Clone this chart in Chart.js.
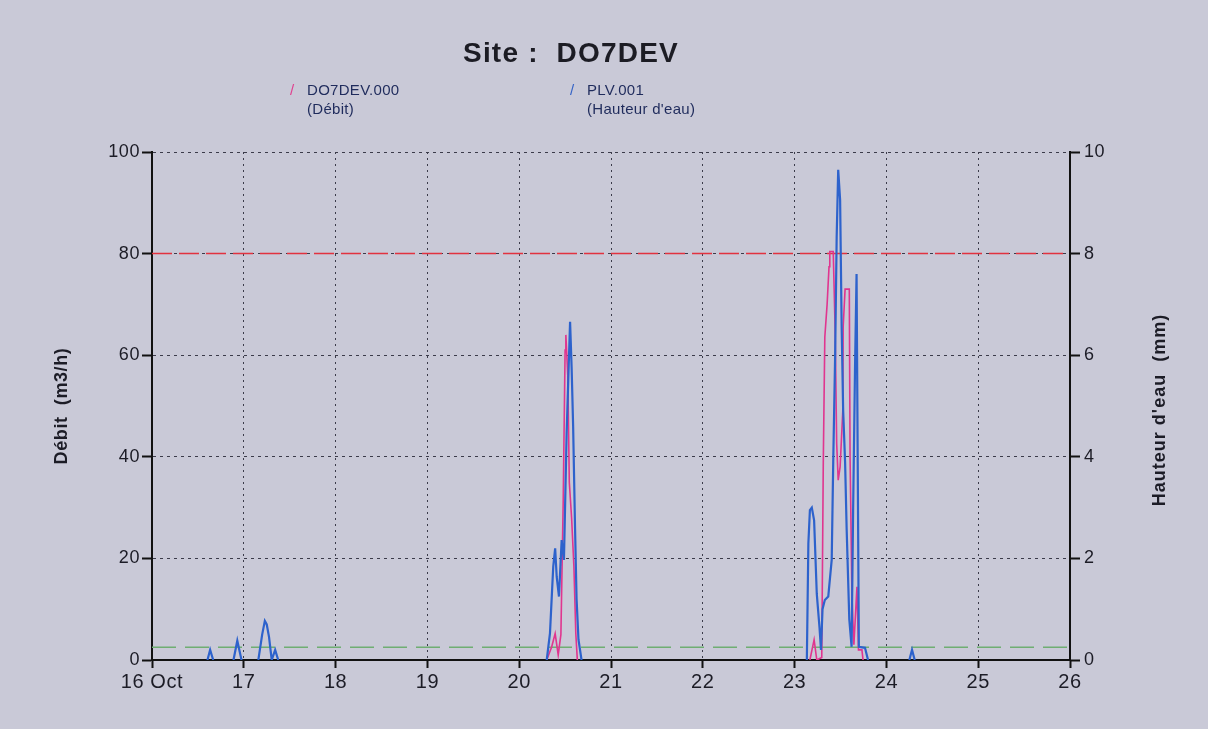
<!DOCTYPE html>
<html lang="fr">
<head>
<meta charset="utf-8">
<title>Site : DO7DEV</title>
<script src="https://cdn.jsdelivr.net/npm/chart.js@4.4.1/dist/chart.umd.min.js"></script>
<style>
  html, body { margin: 0; padding: 0; background: #c9c9d7; }
  #page { position: relative; width: 1208px; height: 729px; overflow: hidden; font-family: "Liberation Sans", Arial, sans-serif; }
  #graph { position: absolute; left: 0; top: 0; }
  .titre { position: absolute; left: 463px; top: 38px; font-size: 28px; line-height: 30px; font-weight: bold; letter-spacing: 1.2px; color: #1c1c24; white-space: pre; }
  .legende { position: absolute; top: 80px; font-size: 15px; line-height: 19px; color: #1f2b5c; letter-spacing: 0.3px; white-space: nowrap; }
  .legende .trait { position: absolute; left: -17px; top: 0; }
</style>
</head>
<body>
<div id="page">
  <canvas id="graph" width="1208" height="729"></canvas>
  <div class="titre">Site :  DO7DEV</div>
  <div class="legende" style="left:307px"><span class="trait" style="color:#e0408f">/</span>DO7DEV.000<br>(Débit)</div>
  <div class="legende" style="left:587px"><span class="trait" style="color:#3563c6">/</span>PLV.001<br>(Hauteur d'eau)</div>
</div>
<script>
// temps en heures depuis le 16 oct. 00h00
const jours = ['16 Oct', '17', '18', '19', '20', '21', '22', '23', '24', '25', '26'];
const seuilHaut = 80;   // m3/h
const seuilBas = 2.5;   // m3/h

// DO7DEV.000 - débit (m3/h), null = pas de tracé
const debitHeures = [103.2, 104.5, 105.4, 106.2, 106.9, 107.5, 108.0, 108.2, 108.7, 109.1, 109.7, 110.3, 110.8, 111.2,
    140,
    172.0, 173.1, 173.8, 175.1, 175.5, 175.9, 176.5, 177.0, 177.2, 178.1, 178.6, 179.0, 179.4, 179.9, 180.6, 180.7,
    181.2, 182.3, 182.5, 183.0, 183.5, 184.3, 184.7, 185.6, 185.9];
const debitValeurs = [0, 2.6, 5.2, 1, 5, 31, 61, 64, 56, 35, 28, 18.4, 5.2, 0,
    null,
    0, 4, 0, 0.5, 39, 63.6, 70, 77.4, 80.4, 80.4, 65, 42.6, 35.4, 38, 49, 65.6,
    73, 73, 40, 12.5, 3, 14.4, 2, 2, 0];

// PLV.001 - hauteur d'eau (mm)
const pluieHeures = [14.5, 15.2, 16.0, 18,
    21.3, 22.3, 23.4, 25,
    27.8, 28.8, 29.5, 30.0, 30.6, 31.3, 32.2, 33.0, 60,
    103.2, 104.05, 104.9, 105.4, 105.8, 106.4, 107.1, 107.7, 108.4, 109.3, 109.7, 110.1, 110.6, 111.0, 111.5, 112.3, 140,
    171.2, 171.6, 172.0, 172.5, 173.1, 173.8, 174.5, 174.9, 175.3, 175.9, 176.8, 177.7, 178.1, 178.6, 179.0, 179.4,
    179.9, 180.3, 180.7, 181.2, 181.6, 182.3, 182.9, 183.3, 183.8, 184.2, 184.5, 184.8, 186.4, 187.2, 192,
    198.0, 198.7, 199.4];
const pluieValeurs = [0, 0.2, 0, null,
    0, 0.38, 0, null,
    0, 0.5, 0.77, 0.7, 0.45, 0, 0.2, 0, null,
    0, 0.53, 1.84, 2.2, 1.64, 1.25, 2.36, 1.97, 4.46, 6.66, 5.77, 4.6, 2.6, 1.2, 0.4, 0, null,
    0, 2.3, 2.95, 3.0, 2.75, 1.3, 0.65, 0.2, 1.0, 1.18, 1.25, 1.97, 3.9, 6.0, 8.33, 9.65,
    9.06, 6.56, 4.9, 3.9, 2.6, 0.8, 0.26, 2.95, 5.77, 7.6, 3.9, 0.26, 0.24, 0, null,
    0, 0.2, 0];

const police = "'Liberation Sans', Arial, sans-serif";
const encre = '#1c1c26';
Chart.defaults.font.family = police;
Chart.defaults.color = encre;

function points(heures, valeurs) {
    return heures.map((h, i) => ({ x: h, y: valeurs[i] }));
}

// le texte du graphique d'origine est un peu plus large
const espacement = {
    id: 'espacement',
    beforeUpdate(chart) { chart.ctx.letterSpacing = '0.6px'; },
    beforeDraw(chart) { chart.ctx.letterSpacing = '0.6px'; }
};

// titre de l'axe de droite, écrit de bas en haut comme à gauche
const titreDroite = {
    id: 'titreDroite',
    afterDraw(chart) {
        const { ctx, chartArea, scales } = chart;
        ctx.save();
        ctx.letterSpacing = '1px';
        ctx.translate(scales.y1.right - 48, (chartArea.top + chartArea.bottom) / 2 + 4);
        ctx.rotate(-Math.PI / 2);
        ctx.font = 'bold 18px ' + police;
        ctx.fillStyle = encre;
        ctx.textAlign = 'center';
        ctx.textBaseline = 'middle';
        ctx.fillText("Hauteur d'eau  (mm)", 0, 0);
        ctx.restore();
    }
};

const grille = { color: '#3b3b4a', lineWidth: 1, tickColor: '#111', tickWidth: 2 };

new Chart(document.getElementById('graph'), {
    type: 'line',
    data: {
        datasets: [
            {
                label: 'PLV.001',
                data: points(pluieHeures, pluieValeurs),
                yAxisID: 'y1',
                borderColor: '#2d62cc',
                borderWidth: 2.2,
                pointRadius: 0,
                order: 1
            },
            {
                label: 'DO7DEV.000',
                data: points(debitHeures, debitValeurs),
                yAxisID: 'y',
                borderColor: '#e0358f',
                borderWidth: 1.6,
                pointRadius: 0,
                order: 2
            },
            {
                label: 'seuil haut',
                data: [{ x: 0, y: seuilHaut }, { x: 240, y: seuilHaut }],
                yAxisID: 'y',
                borderColor: '#e2323f',
                borderWidth: 1.5,
                borderDash: [20, 7],
                pointRadius: 0,
                order: 3
            },
            {
                label: 'seuil bas',
                data: [{ x: 0, y: seuilBas }, { x: 240, y: seuilBas }],
                yAxisID: 'y',
                borderColor: '#6fae72',
                borderWidth: 1.5,
                borderDash: [24, 9],
                pointRadius: 0,
                order: 3
            }
        ]
    },
    options: {
        responsive: false,
        animation: false,
        layout: { padding: { top: 152, left: 0, right: 0, bottom: 0 } },
        plugins: {
            legend: { display: false },
            tooltip: { enabled: false }
        },
        scales: {
            x: {
                type: 'linear',
                min: 0,
                max: 240,
                ticks: {
                    stepSize: 24,
                    autoSkip: false,
                    maxRotation: 0,
                    padding: 2,
                    font: { size: 20 },
                    callback: v => jours[Math.round(v / 24)]
                },
                grid: { ...grille, tickLength: 8 },
                border: { color: '#111', width: 2, dash: [2, 4] },
                afterFit(s) { s.height = 69; s.paddingLeft = 0; s.paddingRight = 0; }
            },
            y: {
                position: 'left',
                min: 0,
                max: 100,
                ticks: { stepSize: 20, padding: 2, font: { size: 18 } },
                grid: { ...grille, tickLength: 10 },
                border: { color: '#111', width: 2, dash: [3, 4] },
                title: {
                    display: true,
                    text: 'Débit  (m3/h)',
                    font: { size: 18, weight: 'bold' },
                    padding: { top: 51, bottom: 0 }
                },
                afterFit(s) { s.width = 152; s.paddingTop = 0; s.paddingBottom = 0; }
            },
            y1: {
                position: 'right',
                min: 0,
                max: 10,
                ticks: { stepSize: 2, padding: 4, font: { size: 18 } },
                grid: { ...grille, drawOnChartArea: false, tickLength: 10 },
                border: { color: '#111', width: 2 },
                afterFit(s) { s.width = 138; s.paddingTop = 0; s.paddingBottom = 0; }
            }
        }
    },
    plugins: [espacement, titreDroite]
});
</script>
</body>
</html>
